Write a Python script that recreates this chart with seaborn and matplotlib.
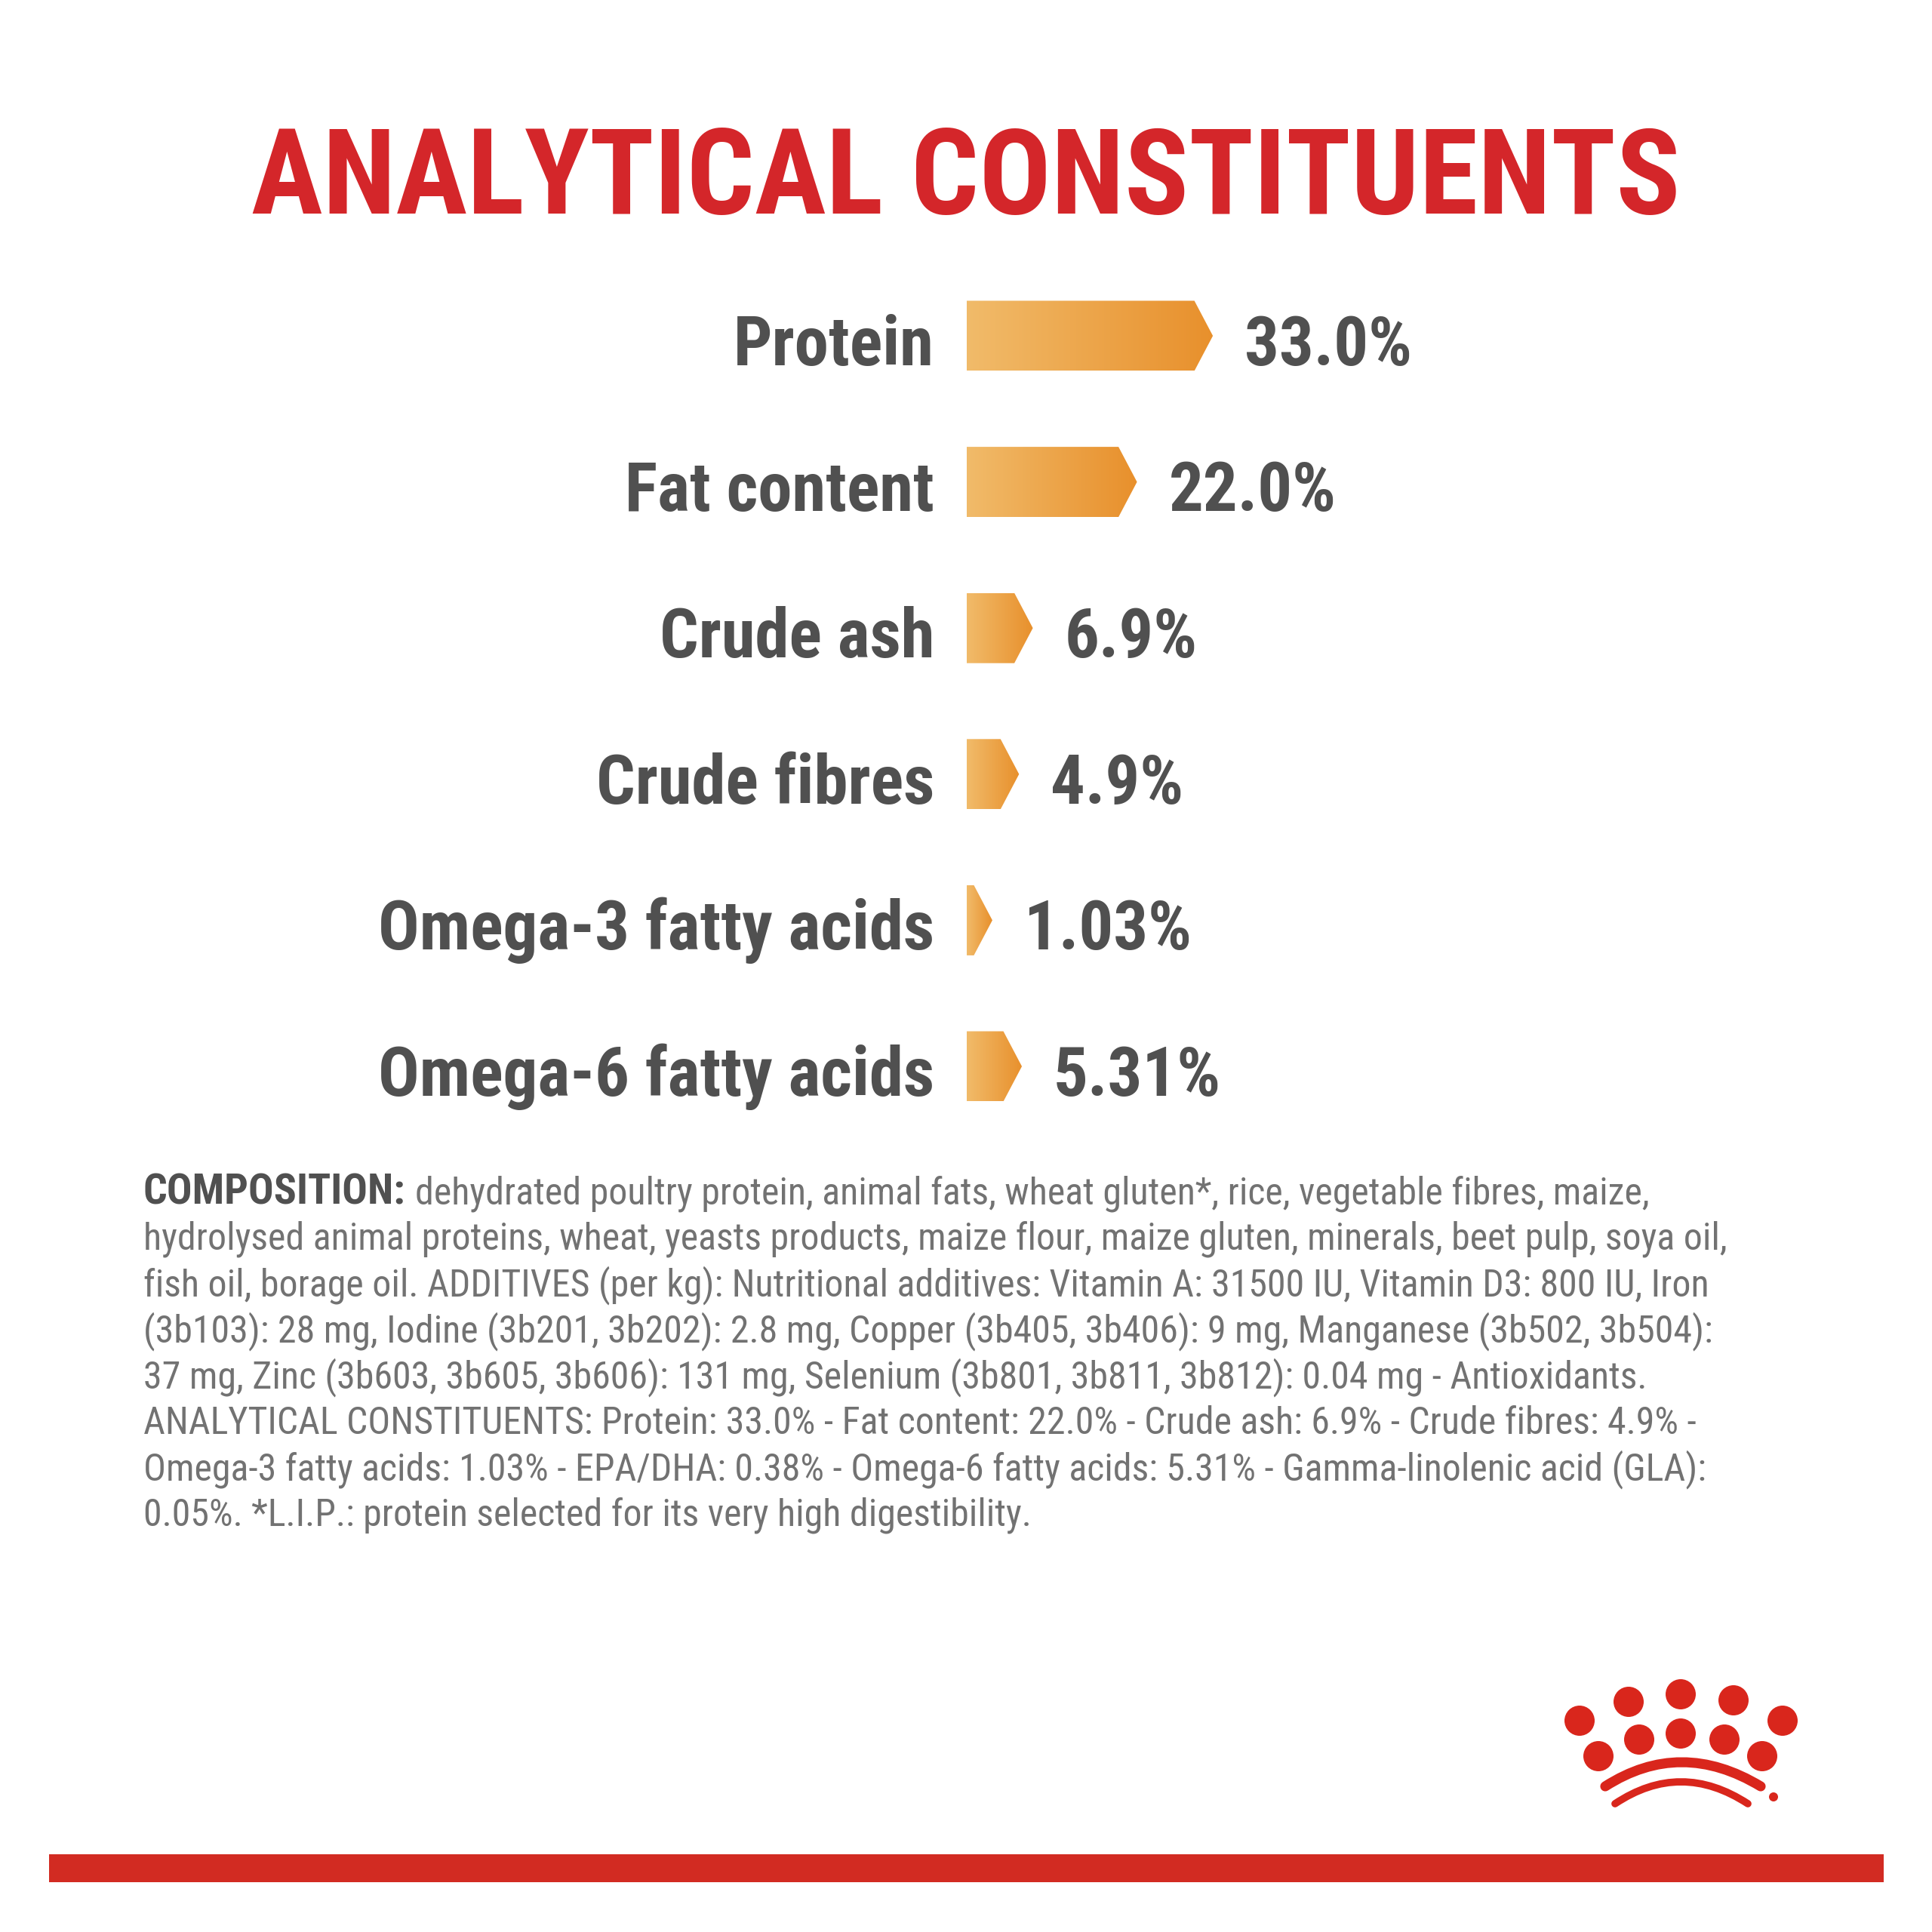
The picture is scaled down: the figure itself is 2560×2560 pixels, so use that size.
"""
Analytical constituents panel: arrow-shaped bars of the nutrient
percentages, the composition text block and the crown logo.
Saves out.png (2560 x 2560).
"""

import matplotlib
matplotlib.use("Agg")
import matplotlib.pyplot as plt
import numpy as np
import pandas as pd
import seaborn as sns
from matplotlib import font_manager
from matplotlib.colors import LinearSegmentedColormap
from matplotlib.patches import Circle, PathPatch, Polygon, Rectangle
from matplotlib.path import Path

# ============================
# Data
# ============================
nutrients = ["Protein", "Fat content", "Crude ash", "Crude fibres",
             "Omega-3 fatty acids", "Omega-6 fatty acids"]
values = [33.0, 22.0, 6.9, 4.9, 1.03, 5.31]
value_labels = ["33.0%", "22.0%", "6.9%", "4.9%", "1.03%", "5.31%"]

title = "ANALYTICAL CONSTITUENTS"
composition_head = "COMPOSITION:"
composition_lines = [
    "dehydrated poultry protein, animal fats, wheat gluten*, rice, vegetable fibres, maize,",
    "hydrolysed animal proteins, wheat, yeasts products, maize flour, maize gluten, minerals, beet pulp, soya oil,",
    "fish oil, borage oil. ADDITIVES (per kg): Nutritional additives: Vitamin A: 31500 IU, Vitamin D3: 800 IU, Iron",
    "(3b103): 28 mg, Iodine (3b201, 3b202): 2.8 mg, Copper (3b405, 3b406): 9 mg, Manganese (3b502, 3b504):",
    "37 mg, Zinc (3b603, 3b605, 3b606): 131 mg, Selenium (3b801, 3b811, 3b812): 0.04 mg - Antioxidants.",
    "ANALYTICAL CONSTITUENTS: Protein: 33.0% - Fat content: 22.0% - Crude ash: 6.9% - Crude fibres: 4.9% -",
    "Omega-3 fatty acids: 1.03% - EPA/DHA: 0.38% - Omega-6 fatty acids: 5.31% - Gamma-linolenic acid (GLA):",
    "0.05%. *L.I.P.: protein selected for its very high digestibility.",
]

# ============================
# Style
# ============================
RED = "#d4262a"
GREY_DARK = "#505050"
GREY_TEXT = "#727272"

sns.set_theme(style="white")
installed = {f.name for f in font_manager.fontManager.ttflist}
NARROW = next((n for n in ["Roboto Condensed", "Liberation Sans Narrow",
                           "Open Sans Condensed"] if n in installed), "DejaVu Sans")
plt.rcParams["font.family"] = [NARROW, "DejaVu Sans"]

W = 2560
fig = plt.figure(figsize=(W / 250, W / 250), dpi=250, facecolor="white")
renderer = fig.canvas.get_renderer()

# background axes in pixel units (y grows downwards)
bg = fig.add_axes([0, 0, 1, 1])
bg.set_xlim(0, W)
bg.set_ylim(W, 0)
bg.axis("off")


def fit_width(text_obj, target_px):
    """Scale a text's font size so it is target_px wide."""
    bb = text_obj.get_window_extent(renderer=renderer)
    text_obj.set_fontsize(text_obj.get_fontsize() * target_px / bb.width)


def right_edge(text_obj):
    """Right edge of a text, in background pixel units."""
    bb = text_obj.get_window_extent(renderer=renderer)
    return bg.transData.inverted().transform((bb.x1, bb.y0))[0]


# ============================
# Title
# ============================
t = bg.text(1280, 283, title, ha="center", va="baseline", color=RED,
            fontweight="bold", fontsize=60)
fit_width(t, 1894)

# ============================
# Arrow bars
# ============================
PX_PER_PCT = 9.14
BAR_LEFT = 1281
ROW0, ROW_STEP = 445, 193.6
XMAX = 50
TIP = 24.5 / PX_PER_PCT

ax = fig.add_axes([BAR_LEFT / W, 1 - (ROW0 + 5.5 * ROW_STEP) / W,
                   XMAX * PX_PER_PCT / W, 6 * ROW_STEP / W])
ax.patch.set_alpha(0)
df = pd.DataFrame({"nutrient": nutrients, "value": values})
sns.barplot(data=df, x="value", y="nutrient", orient="h",
            width=93 / ROW_STEP, color="#eba24a", ax=ax)

bar_cmap = LinearSegmentedColormap.from_list("bar", ["#f1bb6a", "#e8902c"])
grad = np.linspace(0, 1, 256).reshape(1, -1)

# measure the label size once so every row uses the same one
probe = ax.text(0, 0, nutrients[4], fontweight="bold", fontsize=20)
fit_width(probe, 738)
label_size = probe.get_fontsize()
probe.remove()

for p, lab, vlab in zip(list(ax.patches), nutrients, value_labels):
    x0, y0, w, h = p.get_x(), p.get_y(), p.get_width(), p.get_height()
    yc = y0 + h / 2
    shape = Polygon([(x0, y0), (x0 + w, y0), (x0 + w + TIP, yc),
                     (x0 + w, y0 + h), (x0, y0 + h)], closed=True,
                    facecolor="none", edgecolor="none")
    ax.add_patch(shape)
    img = ax.imshow(grad, cmap=bar_cmap, aspect="auto", interpolation="bicubic",
                    extent=[x0, x0 + w + TIP, y0 + h, y0], zorder=2)
    img.set_clip_path(shape)
    p.set_visible(False)

    base = yc + 0.2
    ax.text(-43 / PX_PER_PCT, base, lab, ha="right", va="baseline",
            color=GREY_DARK, fontweight="bold", fontsize=label_size, clip_on=False)
    ax.text(x0 + w + TIP + 42 / PX_PER_PCT, base, vlab, ha="left", va="baseline",
            color=GREY_DARK, fontweight="bold", fontsize=label_size, clip_on=False)

ax.set_xlim(0, XMAX)
ax.set_ylim(5.5, -0.5)
ax.axis("off")

# ============================
# Composition text
# ============================
TEXT_LEFT, BASE0, LINE_STEP = 190, 1595, 61
probe = bg.text(0, 0, composition_lines[1], fontsize=10)
fit_width(probe, 2105)
comp_size = probe.get_fontsize()
probe.remove()

head = bg.text(TEXT_LEFT, BASE0, composition_head, ha="left", va="baseline",
               color=GREY_DARK, fontweight="bold", fontsize=comp_size * 1.12)
for i, line in enumerate(composition_lines):
    x = right_edge(head) + 12 if i == 0 else TEXT_LEFT
    bg.text(x, BASE0 + i * LINE_STEP, line, ha="left", va="baseline",
            color=GREY_TEXT, fontsize=comp_size)

# ============================
# Crown logo and bottom band
# ============================
LOGO = "#d9261c"
outer = [(2093, 2280), (2158, 2255), (2227, 2245), (2297, 2253), (2362, 2280)]
inner = [(2118, 2327), (2172, 2305), (2227, 2297), (2285, 2305), (2335, 2327)]
for cx, cy in outer + inner:
    bg.add_patch(Circle((cx, cy), 20, color=LOGO, lw=0))

for (xa, ya), (xc, yc), (xb, yb), lw in [((2127, 2367), (2227, 2303), (2333, 2367), 3.8),
                                         ((2140, 2390), (2227, 2332), (2316, 2390), 2.8)]:
    arc = Path([(xa, ya), (xc, yc), (xb, yb)], [Path.MOVETO, Path.CURVE3, Path.CURVE3])
    bg.add_patch(PathPatch(arc, facecolor="none", edgecolor=LOGO, lw=lw,
                           capstyle="round"))
bg.add_patch(Circle((2350, 2381), 6, color=LOGO, lw=0))

bg.add_patch(Rectangle((65, 2457), 2431, 37, color="#d22b22", lw=0))

fig.savefig("out.png", dpi=250, facecolor="white")
